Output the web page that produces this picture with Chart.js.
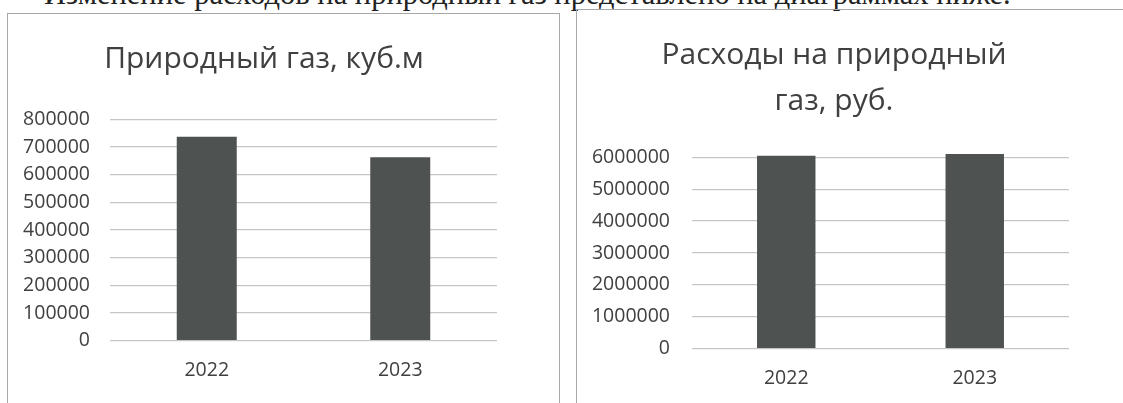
<!DOCTYPE html>
<html>
<head>
<meta charset="utf-8">
<script src="https://cdn.jsdelivr.net/npm/chart.js@4.4.1/dist/chart.umd.min.js"></script>
<style>
  html, body { margin: 0; padding: 0; background: #ffffff; width: 1123px; height: 403px; overflow: hidden; }
  #caption { position: absolute; left: 44px; top: -23px; font-family: "Liberation Serif", "DejaVu Serif", serif; font-size: 30.5px; line-height: 34px; color: #222; white-space: nowrap; }
  .box { position: absolute; border: 1.5px solid #a8a8a8; border-bottom: none; box-sizing: border-box; }
  #boxL { left: 7px; top: 13px; width: 553px; height: 395px; }
  #boxR { left: 576px; top: 9px; width: 560px; height: 400px; }
  canvas { position: absolute; }
  #c1 { left: 9px; top: 15px; }
  #c2 { left: 578px; top: 10px; }
</style>
</head>
<body>
<div id="caption">Изменение расходов на природный газ представлено на диаграммах ниже.</div>
<div class="box" id="boxL"></div>
<div class="box" id="boxR"></div>
<canvas id="c1" width="550" height="400" style="width:550px;height:400px"></canvas>
<canvas id="c2" width="545" height="413" style="width:545px;height:413px"></canvas>
<script>
const categories = ['2022', '2023'];
const gasVolume = [737000, 663000];
const gasCost = [6050000, 6100000];
const titleVolume = 'Природный газ, куб.м';
const titleCost = ['Расходы на природный', 'газ, руб.'];

const FONT = '"Open Sans", "Noto Sans", sans-serif';
const TEXT = '#404040';
const BAR = '#4e5251';
const GRID = '#c6c6c6';

// Re-centre the built-in title block horizontally (as in the reference)
const centerTitle = {
  id: 'centerTitle',
  afterLayout(chart, args, opts) {
    const t = chart.titleBlock;
    if (t && opts && typeof opts.x === 'number') {
      const half = Math.min(opts.x, chart.width - opts.x);
      t.left = opts.x - half;
      t.right = opts.x + half;
      t.width = 2 * half;
    }
  }
};

function makeChart(id, labels, values, title, titleLH, titlePad, titleX, yMax, yStep, yWidth, tickPad, xPad, layoutPad) {
  return new Chart(document.getElementById(id), {
    type: 'bar',
    plugins: [centerTitle],
    data: {
      labels: labels,
      datasets: [{
        data: values,
        backgroundColor: BAR,
        borderWidth: 0,
        barPercentage: 0.31,
        categoryPercentage: 1.0,
        clip: false
      }]
    },
    options: {
      responsive: false,
      animation: false,
      devicePixelRatio: 1,
      layout: { padding: layoutPad },
      plugins: {
        legend: { display: false },
        tooltip: { enabled: false },
        centerTitle: { x: titleX },
        title: {
          display: true,
          text: title,
          color: TEXT,
          font: { family: FONT, size: 30, weight: 'normal', lineHeight: titleLH },
          padding: titlePad
        }
      },
      scales: {
        x: {
          grid: { display: false, drawTicks: false },
          border: { display: false },
          ticks: { color: TEXT, font: { family: FONT, size: 19.5 }, padding: xPad, maxRotation: 0 }
        },
        y: {
          min: 0,
          max: yMax,
          grid: { color: GRID, lineWidth: 1.2, drawTicks: false },
          border: { display: false },
          ticks: {
            stepSize: yStep, autoSkip: false, color: TEXT,
            font: { family: FONT, size: 19.5 }, padding: tickPad,
            callback: function (v) { return String(v); }
          },
          afterFit: function (s) { s.width = yWidth; }
        }
      }
    }
  });
}

makeChart('c1', categories, gasVolume, titleVolume, 1.2, { top: 26, bottom: 42.3 }, 255,
  800000, 100000, 101, 20, 18.3, { left: 0, right: 62, top: 0, bottom: 14.3 });
makeChart('c2', categories, gasCost, titleCost, 46 / 30, { top: 22.5, bottom: 32.8 }, 256,
  6000000, 1000000, 114, 22, 18, { left: 0, right: 54, top: 0, bottom: 15 });
</script>
</body>
</html>
